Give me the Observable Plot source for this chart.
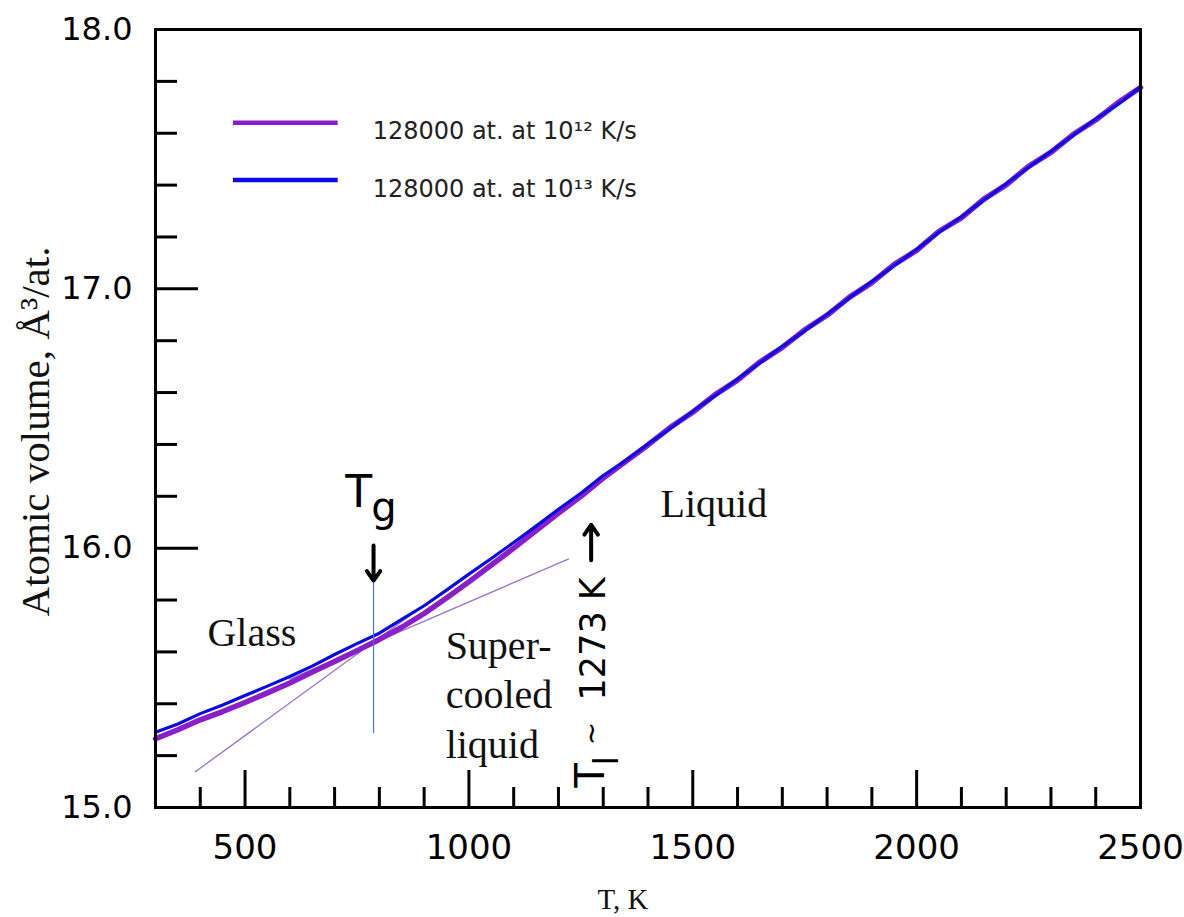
<!DOCTYPE html>
<html>
<head>
<meta charset="utf-8">
<script src="https://cdn.jsdelivr.net/npm/d3@7"></script>
<script src="https://cdn.jsdelivr.net/npm/@observablehq/plot@0.6"></script>
<style>
  html, body { margin: 0; padding: 0; background: #fff; overflow: hidden; }
</style>
</head>
<body>
<div id="chart"></div>
<script>
// ---------- data ----------
const temps = [300,350,400,450,500,550,600,650,700,750,800,850,900,950,1000,1050,1100,1150,1200,1250,1300,1350,1400,1450,1500,1550,1600,1650,1700,1750,1800,1850,1900,1950,2000,2050,2100,2150,2200,2250,2300,2350,2400,2450,2500];

// 128000 at. cooled at 10^12 K/s (purple)
const vol12 = [15.265,15.300,15.338,15.370,15.405,15.442,15.480,15.522,15.563,15.605,15.648,15.695,15.748,15.808,15.870,15.935,16.000,16.068,16.135,16.200,16.270,16.334,16.398,16.466,16.524,16.592,16.648,16.718,16.774,16.842,16.898,16.968,17.024,17.094,17.148,17.222,17.274,17.346,17.401,17.472,17.526,17.596,17.651,17.718,17.776];

// 128000 at. cooled at 10^13 K/s (blue)
const vol13 = [15.290,15.322,15.362,15.395,15.432,15.468,15.505,15.545,15.590,15.632,15.672,15.725,15.778,15.838,15.900,15.960,16.022,16.085,16.150,16.212,16.280,16.338,16.402,16.462,16.528,16.588,16.652,16.715,16.778,16.838,16.902,16.965,17.028,17.090,17.152,17.218,17.278,17.342,17.405,17.468,17.530,17.592,17.655,17.712,17.778];

const seriesNames = ["128000 at. at 10¹² K/s", "128000 at. at 10¹³ K/s"];
const seriesColors = ["#8a1ec8", "#0a0ae6"];

// construction lines
const liquidFit = [{T: 389, V: 15.138}, {T: 900, V: 15.780}];   // liquid extrapolation
const glassFit  = [{T: 600, V: 15.495}, {T: 1222, V: 15.958}];  // glass tangent
const tgLine    = [{T: 787, V: 15.289}, {T: 787, V: 15.883}];  // vertical at Tg

// axis ticks
const xMajor = [500, 1000, 1500, 2000, 2500];
const xMinor = [400, 600, 700, 800, 900, 1100, 1200, 1300, 1400, 1600, 1700, 1800, 1900, 2100, 2200, 2300, 2400];
const yMajor = [15, 16, 17, 18];
const yMinor = [15.2, 15.4, 15.6, 15.8, 16.2, 16.4, 16.6, 16.8, 17.2, 17.4, 17.6, 17.8];

// annotations (data coordinates)
const regionLabels = [
  {T: 416, V: 15.683, text: "Glass"},
  {T: 1428, V: 16.18, text: "Liquid"},
  {T: 948, V: 15.443, text: "Super-\ncooled\nliquid"}
];
const tgArrow = [{T: 787, V1: 16.01, V2: 15.875}];
const tlArrow = [{T: 1273, V1: 15.953, V2: 16.09}];
const legendRows = [
  {T1: 474, T2: 708, V: 17.64, TT: 785, VT: 17.607},
  {T1: 474, T2: 708, V: 17.42, TT: 785, VT: 17.383}
];

// ---------- build ----------
const rows12 = temps.map((t, i) => ({T: t, V: vol12[i], s: seriesNames[0]}));
const rows13 = temps.map((t, i) => ({T: t, V: vol13[i], s: seriesNames[1]}));

const W = 1184, H = 917, ML = 155, MR = 44, MT = 29, MB = 110;
const FW = W - ML - MR, FH = H - MT - MB;
const sans = "DejaVu Sans, Verdana, sans-serif";
const serif = "Liberation Serif, Times New Roman, serif";

const chart = Plot.plot({
  width: W, height: H,
  marginLeft: ML, marginRight: MR, marginTop: MT, marginBottom: MB,
  x: {domain: [300, 2500]},
  y: {domain: [15, 18]},
  style: {fontFamily: sans, background: "#fff", color: "#000"},
  marks: [
    // construction lines
    Plot.line(liquidFit, {x: "T", y: "V", stroke: "#9a72cc", strokeWidth: 1.3}),
    Plot.line(glassFit, {x: "T", y: "V", stroke: "#9a72cc", strokeWidth: 1.3}),
    // data curves
    Plot.line(rows12, {x: "T", y: "V", stroke: seriesColors[0], strokeWidth: 5.5, strokeLinejoin: "round"}),
    Plot.line(rows13, {x: "T", y: "V", stroke: seriesColors[1], strokeWidth: 3.2, strokeLinejoin: "round"}),
    Plot.line(tgLine, {x: "T", y: "V", stroke: "#4f72c6", strokeWidth: 1.2}),

    // ticks (inward)
    Plot.ruleY(yMajor, {y: d => d, stroke: "#000", strokeWidth: 3, insetRight: FW - 43}),
    Plot.ruleY(yMinor, {y: d => d, stroke: "#000", strokeWidth: 3, insetRight: FW - 22}),
    Plot.ruleX(xMajor, {x: d => d, stroke: "#000", strokeWidth: 3, insetTop: FH - 37}),
    Plot.ruleX(xMinor, {x: d => d, stroke: "#000", strokeWidth: 3, insetTop: FH - 20}),
    Plot.frame({stroke: "#000", strokeWidth: 3}),

    // axes labels
    Plot.axisY({ticks: yMajor, tickSize: 0, tickPadding: 23, fontSize: 32, tickFormat: d => d.toFixed(1), label: null}),
    Plot.axisX({ticks: xMajor, tickSize: 0, tickPadding: 27, fontSize: 34, tickFormat: d => String(d), label: null}),
    Plot.text(["Atomic volume, Å³/at."], {frameAnchor: "left", textAnchor: "middle", lineAnchor: "middle", rotate: -90, dx: -120, dy: 13, fontSize: 41, fontFamily: serif, fill: "#111"}),
    Plot.text(["T, K"], {frameAnchor: "bottom", textAnchor: "middle", lineAnchor: "middle", dx: -25, dy: 92, fontSize: 29, fontFamily: serif, fill: "#111"}),

    // region labels
    Plot.text(regionLabels, {x: "T", y: "V", text: "text", textAnchor: "start", lineAnchor: "middle", lineHeight: 1.23, fontSize: 40, fontFamily: serif, fill: "#111"}),

    // Tg label + arrow
    Plot.text(["T"], {x: 724, y: 16.215, textAnchor: "start", lineAnchor: "middle", fontSize: 44, fontFamily: sans}),
    Plot.text(["g"], {x: 782, y: 16.153, textAnchor: "start", lineAnchor: "middle", fontSize: 40, fontFamily: sans}),
    Plot.arrow(tgArrow, {x: "T", y1: "V1", y2: "V2", stroke: "#000", strokeWidth: 4, headLength: 11, headAngle: 70}),

    // Tl label (rotated) + arrow
    Plot.text(["T"], {x: 1274, y: 15.077, rotate: -90, textAnchor: "start", lineAnchor: "middle", fontSize: 40, fontFamily: sans}),
    Plot.text(["l"], {x: 1308, y: 15.162, rotate: -90, textAnchor: "start", lineAnchor: "middle", fontSize: 34, fontFamily: sans}),
    Plot.text(["~"], {x: 1276, y: 15.285, rotate: -90, textAnchor: "middle", lineAnchor: "middle", fontSize: 28, fontFamily: sans}),
    Plot.text(["1273 K"], {x: 1280, y: 15.413, rotate: -90, textAnchor: "start", lineAnchor: "middle", fontSize: 35, fontFamily: sans}),
    Plot.arrow(tlArrow, {x: "T", y1: "V1", y2: "V2", stroke: "#000", strokeWidth: 4, headLength: 11, headAngle: 70}),

    // legend
    Plot.ruleY(legendRows, {y: "V", x1: "T1", x2: "T2", stroke: (d, i) => seriesColors[i], strokeWidth: 4.5}),
    Plot.text(legendRows, {x: "TT", y: "VT", text: (d, i) => seriesNames[i], textAnchor: "start", lineAnchor: "middle", fontSize: 24, fontFamily: sans, fill: "#222"})
  ]
});
document.getElementById("chart").appendChild(chart);
</script>
</body>
</html>
